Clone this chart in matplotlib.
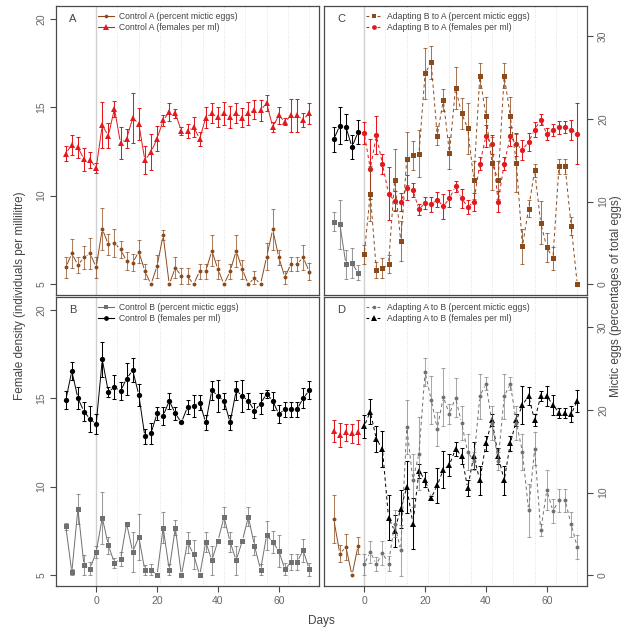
import numpy as np
import matplotlib
matplotlib.use("Agg")
import matplotlib.pyplot as plt
from matplotlib.collections import LineCollection
from matplotlib.lines import Line2D

plt.rcParams['font.family'] = ['Liberation Sans', 'DejaVu Sans']

# ---------------- data ----------------
days = [-10, -8, -6, -4, -2, 0, 2, 4, 6, 8, 10, 12, 14, 16, 18, 20, 22, 24, 26, 28, 30,
        32, 34, 36, 38, 40, 42, 44, 46, 48, 50, 52, 54, 56, 58, 60, 62, 64, 66, 68, 70]
days_pre = [-10, -8, -6, -4, -2]
days_post = [0, 2, 4, 6, 8, 10, 12, 14, 16, 18, 20, 22, 24, 26, 28, 30, 32, 34, 36,
             38, 40, 42, 44, 46, 48, 50, 52, 54, 56, 58, 60, 62, 64, 66, 68, 70]
week_lines = [7, 14, 21, 28, 35, 42, 49, 56, 63, 70]

ctrlA_fem = [12.38, 12.89, 12.74, 12.06, 12.02, 11.57, 13.98, 13.39, 14.92, 12.98, 13.22,
             14.39, 14.07, 12.00, 12.47, 13.22, 14.26, 14.73, 14.67, 13.66, 13.66, 13.88,
             13.22, 14.41, 14.67, 14.45, 14.67, 14.45, 14.67, 14.41, 14.67, 14.86, 14.83,
             15.24, 13.88, 14.54, 14.17, 14.54, 14.54, 14.30, 14.67]
ctrlA_fem_err = [0.44, 0.57, 0.6, 0.66, 0.45, 0.3, 1.3, 0.7, 0.45, 0.9, 0.55, 1.4, 0.9, 0.8,
                 1.0, 0.7, 0.3, 0.5, 0.25, 0.25, 0.4, 0.55, 0.4, 0.6, 0.55, 0.55, 0.65, 0.65,
                 0.55, 0.55, 0.65, 0.55, 0.6, 0.45, 0.3, 0.5, 0.2, 0.95, 0.95, 0.4, 0.6]
ctrlA_mic = [2.05, 3.73, 2.33, 3.25, 3.73, 2.05, 6.70, 4.81, 5.01, 4.21, 2.81, 2.61, 3.93,
             1.60, 0.00, 2.20, 5.94, 0.00, 2.00, 1.00, 1.00, 0.00, 1.60, 1.60, 4.05, 1.80,
             0.00, 1.60, 4.05, 1.80, 0.00, 0.80, 0.00, 3.33, 6.62, 3.25, 0.84, 2.45, 2.45,
             3.25, 1.52]
ctrlA_mic_err = [1.25, 1.8, 1.0, 1.4, 1.85, 1.25, 2.55, 1.3, 1.7, 1.05, 1.1, 1.05, 1.4, 0.9,
                 0, 1.4, 0.6, 0, 1.25, 0.95, 0.95, 0, 0.9, 0.9, 1.85, 1.1, 0, 0.9, 1.9, 1.1,
                 0, 0.75, 0, 1.65, 2.5, 0.9, 0.8, 0.9, 0.9, 1.5, 1.0]

ctrlB_fem = [14.89, 16.54, 15.00, 14.25, 13.82, 13.54, 17.20, 15.36, 15.64, 15.41, 16.11,
             16.59, 15.19, 12.84, 13.01, 14.14, 14.00, 14.85, 14.14, 13.63, 14.51, 14.57,
             14.76, 13.63, 15.45, 15.13, 14.85, 13.63, 15.45, 15.13, 14.85, 14.29, 14.70,
             15.26, 14.85, 14.10, 14.38, 14.38, 14.38, 15.00, 15.45]
ctrlB_fem_err = [0.52, 0.5, 0.63, 0.53, 0.72, 0.56, 1.0, 0.3, 0.68, 0.5, 0.9, 0.68, 0.6, 0.4,
                 0.6, 0.38, 0.5, 0.47, 0.38, 0.05, 0.42, 0.62, 0.4, 0.4, 0.55, 0.88, 0.47,
                 0.42, 0.55, 0.88, 0.45, 0.42, 0.58, 0.23, 0.52, 0.5, 0.43, 0.43, 0.43, 0.56, 0.5]
ctrlB_mic = [5.92, 0.40, 8.05, 1.21, 0.81, 2.82, 6.97, 3.62, 1.49, 1.97, 6.24, 2.82, 4.63,
             0.60, 0.68, 0.00, 5.76, 0.68, 5.76, 0.00, 3.99, 2.54, 0.00, 4.03, 1.81, 4.15,
             7.05, 4.03, 1.81, 4.15, 7.05, 3.58, 0.68, 4.83, 4.03, 2.94, 0.72, 1.61, 1.61,
             3.02, 0.72]
ctrlB_mic_err = [0.45, 0.4, 1.8, 1.2, 0.8, 0.7, 3.15, 1.05, 0.65, 0.87, 0, 2.4, 2.8, 0.6,
                 0.68, 0, 1.9, 0.68, 0.9, 0, 1.27, 1.75, 0, 1.2, 1.75, 0, 1.2, 1.2, 1.75, 0,
                 1.15, 1.15, 0.68, 1.75, 1.3, 1.9, 0.72, 0.95, 0.95, 1.4, 0.75]

adBA_pre_fem = [13.19, 13.96, 13.88, 12.75, 13.60]
adBA_pre_fem_err = [0.72, 1.03, 0.73, 0.7, 0.66]
adBA_pre_mic = [7.54, 7.26, 2.45, 2.53, 1.40]
adBA_pre_mic_err = [1.15, 2.95, 1.75, 1.8, 0.9]
adBA_fem = [13.55, 11.53, 13.41, 11.78, 10.12, 9.69, 9.65, 10.46, 10.31, 9.22, 9.59, 9.52,
            9.78, 9.40, 9.84, 10.53, 9.84, 9.37, 9.65, 11.81, 13.36, 12.90, 9.65, 11.81,
            13.36, 12.90, 12.60, 13.04, 13.73, 14.30, 13.47, 13.73, 13.88, 13.88, 13.73, 13.51]
adBA_fem_err = [0.63, 1.7, 1.07, 0.56, 1.5, 0.55, 0.52, 0.7, 0.4, 0.33, 0.36, 0.42, 0.4, 0.7,
                0.47, 0.32, 0.56, 0.4, 0.52, 0.38, 0.61, 0.54, 0.6, 0.38, 0.55, 0.63, 0.56,
                0.5, 0.42, 0.33, 0.33, 0.33, 0.37, 0.34, 0.56, 1.73]
adBA_mic = [3.61, 10.95, 1.72, 1.93, 2.41, 12.64, 5.21, 15.16, 15.56, 15.76, 25.47, 26.80,
            17.97, 22.26, 15.84, 23.70, 20.66, 18.85, 12.64, 25.19, 20.30, 14.64, 12.64,
            25.19, 20.30, 14.64, 4.61, 9.15, 13.76, 7.42, 4.45, 3.13, 14.24, 14.24, 7.06, 0.00]
adBA_mic_err = [1.1, 3.3, 1.0, 1.2, 1.1, 3.7, 2.4, 3.2, 1.7, 2.85, 3.1, 2.0, 1.2, 1.3, 1.9,
                2.5, 1.9, 3.1, 2.3, 1.5, 2.3, 3.2, 2.3, 1.5, 2.3, 3.5, 2.1, 1.05, 0.8, 2.6,
                1.8, 1.4, 0.9, 0.9, 1.1, 0]

adAB_pre_fem = [13.16, 12.94, 13.07, 13.01, 13.10]
adAB_pre_fem_err = [0.63, 0.68, 0.5, 0.56, 0.66]
adAB_pre_mic = [6.77, 2.62, 3.42, 0.00, 3.58]
adAB_pre_mic_err = [2.9, 1.0, 1.6, 0, 1.0]
adAB_fem = [13.41, 14.25, 12.69, 12.13, 8.25, 7.50, 8.75, 9.97, 7.91, 10.87, 10.40, 9.35,
            10.07, 10.97, 11.23, 12.13, 11.75, 9.92, 11.75, 10.35, 12.45, 13.76, 11.75,
            10.35, 12.45, 13.76, 14.62, 15.13, 13.76, 15.13, 15.13, 14.62, 14.19, 14.19,
            14.10, 14.85]
adAB_fem_err = [0.66, 0.73, 0.75, 1.0, 1.26, 0.9, 1.07, 1.46, 1.45, 0.4, 0.42, 0.1, 0.97,
                1.07, 0.6, 0.38, 0.45, 0.47, 0.75, 0.82, 0.44, 0.33, 0.45, 0.82, 0.44, 0.33,
                1.1, 0.5, 0.33, 0.27, 0.56, 0.56, 0.28, 0.28, 0.44, 0.6]
adAB_mic = [1.33, 2.82, 1.33, 2.70, 1.41, 6.24, 3.02, 17.92, 11.48, 14.70, 24.57, 21.22,
            17.72, 21.55, 19.45, 21.47, 18.40, 14.90, 13.81, 21.63, 23.16, 18.40, 13.81,
            21.63, 23.16, 18.40, 14.90, 7.85, 15.30, 5.44, 10.27, 7.77, 9.06, 9.06, 6.16, 3.42]
adAB_mic_err = [1.3, 1.33, 0.85, 1.5, 0.9, 1.6, 3.1, 3.3, 3.2, 4.4, 1.7, 2.9, 2.05, 3.5, 1.2,
                2.4, 2.0, 2.2, 1.1, 2.7, 0.8, 2.0, 1.1, 2.7, 0.8, 2.0, 2.2, 3.2, 2.0, 0.7,
                2.4, 1.5, 1.4, 1.4, 1.5, 1.4]

# ---------------- style ----------------
RED = '#e3191e'
BROWN = '#8b4a1c'
GRAY = '#707070'
BLACK = '#000000'
FRAME = '#4a4a4a'
TXT = '#666666'

XLIM = (-13.2, 73.2)
YL = (4.38, 20.73)      # female density
YR = (-1.29, 33.61)     # mictic eggs

fig = plt.figure(figsize=(6.43, 6.43), dpi=100)
lx, rx, w = 56 / 643, 324 / 643, 263 / 643
ty, by, h = 1 - 295 / 643, 1 - 586 / 643, 289 / 643
pos = {'A': (lx, ty), 'B': (lx, by), 'C': (rx, ty), 'D': (rx, by)}

axes = {}
for k, (x0, y0) in pos.items():
    ax = fig.add_axes([x0, y0, w, h])
    ax2 = ax.twinx()
    ax.set_xlim(*XLIM)
    ax.set_ylim(*YL)
    ax2.set_ylim(*YR)
    ax.set_zorder(1)
    ax2.set_zorder(2)
    for s in ax.spines.values():
        s.set_color(FRAME)
        s.set_linewidth(0.9)
    for s in ax2.spines.values():
        s.set_visible(False)
    ax.axvline(0, color='#d0d0d0', lw=1.0, zorder=0)
    for d in week_lines:
        ax.axvline(d, color='#d8d8d8', ls=(0, (1, 2)), lw=0.6, zorder=0)
    axes[k] = (ax, ax2)


def gapline(ax, x, y, color, ls, lw=0.7, gap=3.2):
    pts = ax.transData.transform(np.column_stack([x, y]))
    inv = ax.transData.inverted()
    segs = []
    for p0, p1 in zip(pts[:-1], pts[1:]):
        d = p1 - p0
        L = np.hypot(d[0], d[1])
        if L <= 2 * gap:
            continue
        u = d / L
        segs.append(inv.transform(np.array([p0 + u * gap, p1 - u * gap])))
    ax.add_collection(LineCollection(segs, colors=color, linestyles=ls, linewidths=lw, zorder=2))


def series(ax, x, y, err, color, marker, ms, ls, ecolor, ealpha=1.0):
    x = np.asarray(x, float)
    y = np.asarray(y, float)
    err = np.asarray(err, float)
    m = err > 0
    ax.errorbar(x[m], y[m], yerr=err[m], fmt='none', ecolor=ecolor, elinewidth=0.75,
                capsize=1.6, capthick=0.75, alpha=ealpha, zorder=2)
    gapline(ax, x, y, color, ls)
    ax.plot(x, y, ls='none', marker=marker, ms=ms, color=color, mec=color, mew=0, zorder=3)


DASH = (0, (3.5, 3))

# Panel A
ax, ax2 = axes['A']
series(ax, days, ctrlA_fem, ctrlA_fem_err, RED, '^', 4.6, '-', RED)
series(ax2, days, ctrlA_mic, ctrlA_mic_err, BROWN, 'o', 2.8, '-', BROWN, 0.7)

# Panel B
ax, ax2 = axes['B']
series(ax, days, ctrlB_fem, ctrlB_fem_err, BLACK, 'o', 3.8, '-', BLACK)
series(ax2, days, ctrlB_mic, ctrlB_mic_err, GRAY, 's', 3.6, '-', GRAY, 0.7)

# Panel C
ax, ax2 = axes['C']
series(ax, days_pre, adBA_pre_fem, adBA_pre_fem_err, BLACK, 'o', 3.8, '-', BLACK)
series(ax, days_post, adBA_fem, adBA_fem_err, RED, 'o', 3.8, DASH, RED)
series(ax2, days_pre, adBA_pre_mic, adBA_pre_mic_err, GRAY, 's', 3.6, '-', GRAY, 0.7)
series(ax2, days_post, adBA_mic, adBA_mic_err, BROWN, 's', 3.6, DASH, BROWN, 0.75)

# Panel D
ax, ax2 = axes['D']
series(ax, days_pre, adAB_pre_fem, adAB_pre_fem_err, RED, '^', 4.6, '-', RED)
series(ax, days_post, adAB_fem, adAB_fem_err, BLACK, '^', 4.6, DASH, BLACK)
series(ax2, days_pre, adAB_pre_mic, adAB_pre_mic_err, BROWN, 'o', 2.8, '-', BROWN, 0.7)
series(ax2, days_post, adAB_mic, adAB_mic_err, GRAY, 'o', 2.8, DASH, GRAY, 0.6)

# ---------------- axes/ticks ----------------
for k, (ax, ax2) in axes.items():
    ax.set_xticks([0, 20, 40, 60])
    ax.tick_params(axis='x', direction='out', length=4, width=0.8, color=FRAME,
                   labelsize=7.5, labelcolor=TXT, pad=3)
    if k in ('A', 'C'):
        ax.tick_params(axis='x', length=0, labelbottom=False)
    if k in ('A', 'B'):
        ax.set_yticks([5, 10, 15, 20])
        ax.tick_params(axis='y', direction='out', length=4, width=0.8, color=FRAME,
                       labelsize=7.5, labelcolor=TXT, pad=3)
        for lab in ax.get_yticklabels():
            lab.set_rotation(90)
            lab.set_va('center')
        ax2.set_yticks([])
    else:
        ax.set_yticks([])
        ax2.set_yticks([0, 10, 20, 30])
        ax2.tick_params(axis='y', direction='out', length=4, width=0.8, color=FRAME,
                        labelsize=7.5, labelcolor=TXT, pad=4)
        for lab in ax2.get_yticklabels():
            lab.set_rotation(90)
            lab.set_va('center')
    ax2.set_xlim(*XLIM)

# ---------------- legends & letters ----------------
leg_specs = {
    'A': [('Control A (percent mictic eggs)', BROWN, 'o', 2.6, '-'),
          ('Control A (females per ml)', RED, '^', 4.0, '-')],
    'B': [('Control B (percent mictic eggs)', GRAY, 's', 3.0, '-'),
          ('Control B (females per ml)', BLACK, 'o', 3.4, '-')],
    'C': [('Adapting B to A (percent mictic eggs)', BROWN, 's', 3.2, (0, (2.5, 2.5))),
          ('Adapting B to A (females per ml)', RED, 'o', 3.4, (0, (2.5, 2.5)))],
    'D': [('Adapting A to B (percent mictic eggs)', GRAY, 'o', 2.6, (0, (2.5, 2.5))),
          ('Adapting A to B (females per ml)', BLACK, '^', 4.0, (0, (2.5, 2.5)))],
}
for k, (ax, ax2) in axes.items():
    handles = [Line2D([], [], color=c, marker=m, ms=ms, ls=ls, lw=0.8, mew=0)
               for (_, c, m, ms, ls) in leg_specs[k]]
    labels = [s[0] for s in leg_specs[k]]
    lg = ax2.legend(handles, labels, loc='upper left', bbox_to_anchor=(0.158, 0.978),
                    frameon=False, fontsize=6.2, handlelength=1.9, handletextpad=0.6,
                    labelspacing=0.15, borderpad=0, borderaxespad=0)
    for t in lg.get_texts():
        t.set_color('#444444')
    ax2.text(0.05, 0.955, k, transform=ax2.transAxes, fontsize=8, color='#444444',
             ha='left', va='center')

# ---------------- axis titles ----------------
fig.text(0.031, 0.54, 'Female density (individuals per millilitre)', rotation=90,
         ha='center', va='center', fontsize=8.5, color='#444444')
fig.text(0.958, 0.54, 'Mictic eggs (percentages of total eggs)', rotation=90,
         ha='center', va='center', fontsize=8.5, color='#444444')
fig.text(0.5, 0.034, 'Days', ha='center', va='center', fontsize=8.5, color='#444444')

fig.savefig('out.png', dpi=100, facecolor='white')
